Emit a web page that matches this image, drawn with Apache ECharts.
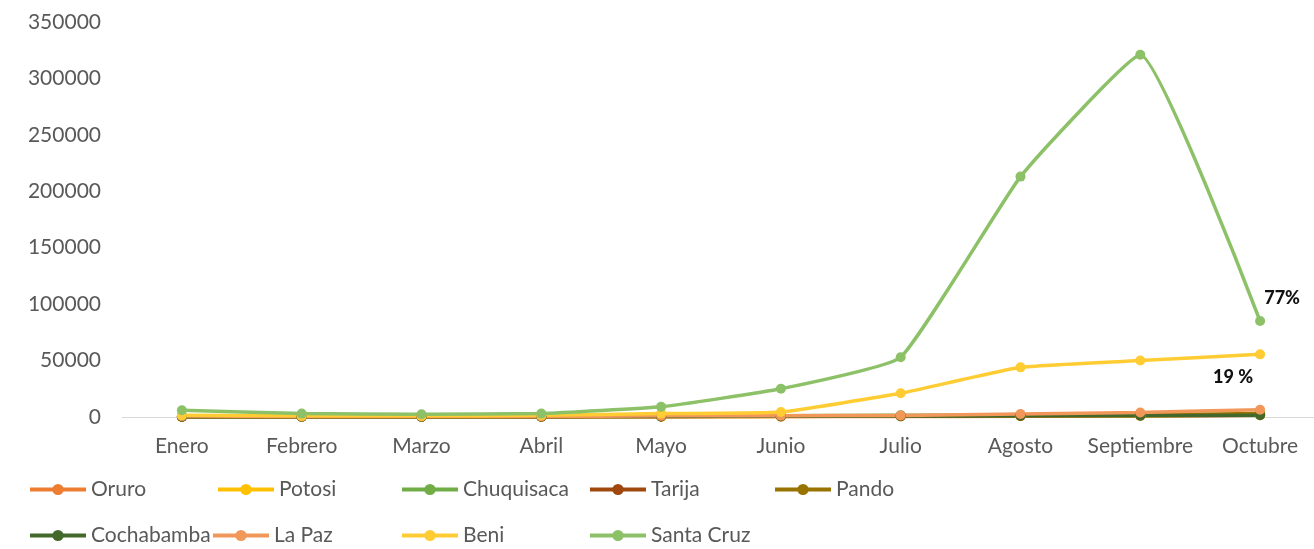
<!DOCTYPE html>
<html>
<head>
<meta charset="utf-8">
<script src="https://cdn.jsdelivr.net/npm/echarts@6/dist/echarts.min.js"></script>
<style>
  html, body { margin: 0; padding: 0; background: #ffffff; }
  #chart { width: 1314px; height: 549px; }
</style>
</head>
<body>
<div id="chart"></div>
<script>
// Monthly counts per department
const months = ['Enero', 'Febrero', 'Marzo', 'Abril', 'Mayo', 'Junio', 'Julio', 'Agosto', 'Septiembre', 'Octubre'];

const oruro      = [100, 80, 60, 80, 150, 300, 400, 600, 900, 1500];
const potosi     = [200, 150, 100, 150, 300, 500, 700, 1000, 1200, 1800];
const chuquisaca = [500, 300, 300, 400, 800, 1200, 1500, 1800, 2000, 2500];
const tarija     = [300, 200, 200, 300, 500, 700, 900, 1200, 1500, 2200];
const pando      = [200, 150, 100, 200, 400, 600, 800, 1300, 1800, 3000];
const cochabamba = [300, 200, 200, 300, 500, 700, 900, 1000, 1200, 1600];
const laPaz      = [800, 500, 400, 500, 1000, 1200, 1400, 2600, 4000, 6500];
const beni       = [1500, 1000, 1000, 1500, 3000, 4500, 21000, 44000, 50000, 55500];
const santaCruz  = [6000, 3000, 2500, 3000, 9000, 25000, 53000, 213000, 321000, 85000];

const yTicks = [0, 50000, 100000, 150000, 200000, 250000, 300000, 350000];

// Percentage notes shown beside the last month
const notes = { 'Santa Cruz': '77%', 'Beni': '19 %' };

const seriesDefs = [
  { name: 'Oruro',      data: oruro,      color: '#ED7D31' },
  { name: 'Potosi',     data: potosi,     color: '#FFC000' },
  { name: 'Chuquisaca', data: chuquisaca, color: '#70AD47' },
  { name: 'Tarija',     data: tarija,     color: '#9E480E' },
  { name: 'Pando',      data: pando,      color: '#997300' },
  { name: 'Cochabamba', data: cochabamba, color: '#43682B' },
  { name: 'La Paz',     data: laPaz,      color: '#F1975A' },
  { name: 'Beni',       data: beni,       color: '#FFCD33' },
  { name: 'Santa Cruz', data: santaCruz,  color: '#8CC168' }
];

// Legend slot for each series: [left, top]
const legendSlots = {
  'Oruro': [28, 479], 'Potosi': [216, 479], 'Chuquisaca': [400, 479], 'Tarija': [588, 479], 'Pando': [773, 479],
  'Cochabamba': [28, 525], 'La Paz': [211, 525], 'Beni': [400, 525], 'Santa Cruz': [588, 525]
};

const FONT = 'Lato';

const series = seriesDefs.map(function (s) {
  const data = s.data.map(function (v, i) {
    if (notes[s.name] && i === s.data.length - 1) {
      const up = s.name === 'Santa Cruz';
      return {
        value: v,
        label: {
          show: true,
          formatter: notes[s.name],
          position: up ? 'top' : 'bottom',
          offset: up ? [22, -4] : [-27, 4],
          color: '#111111',
          fontFamily: FONT,
          fontWeight: 900,
          fontSize: 18
        }
      };
    }
    return v;
  });
  return {
    name: s.name,
    type: 'line',
    data: data,
    smooth: 0.12,
    symbol: 'circle',
    symbolSize: 10,
    showSymbol: true,
    color: s.color,
    lineStyle: { width: 3.5, color: s.color },
    itemStyle: { color: s.color },
    emphasis: { disabled: true },
    z: 2
  };
});

const legends = seriesDefs.map(function (s) {
  const pos = legendSlots[s.name];
  return {
    data: [s.name],
    left: pos[0],
    top: pos[1],
    padding: 0,
    itemWidth: 56,
    itemHeight: 14,
    selectedMode: false,
    lineStyle: { width: 4 },
    textStyle: { color: '#595959', fontFamily: FONT, fontSize: 21 }
  };
});

const chart = echarts.init(document.getElementById('chart'), null, { renderer: 'canvas' });
chart.setOption({
  backgroundColor: '#ffffff',
  animation: false,
  grid: { left: 122, width: 1198, top: 22, bottom: 132, outerBoundsMode: 'none' },
  legend: legends,
  xAxis: {
    type: 'category',
    data: months,
    boundaryGap: true,
    axisLine: { show: true, lineStyle: { color: '#D9D9D9', width: 1 } },
    axisTick: { show: false },
    axisLabel: { interval: 0, color: '#595959', fontFamily: FONT, fontSize: 21, margin: 19 }
  },
  yAxis: {
    type: 'value',
    min: yTicks[0],
    max: yTicks[yTicks.length - 1],
    interval: yTicks[1] - yTicks[0],
    axisLine: { show: false },
    axisTick: { show: false },
    splitLine: { show: false },
    axisLabel: {
      color: '#595959', fontFamily: FONT, fontSize: 21, margin: 21,
      formatter: function (v) { return String(v); }
    }
  },
  series: series
});
</script>
</body>
</html>
